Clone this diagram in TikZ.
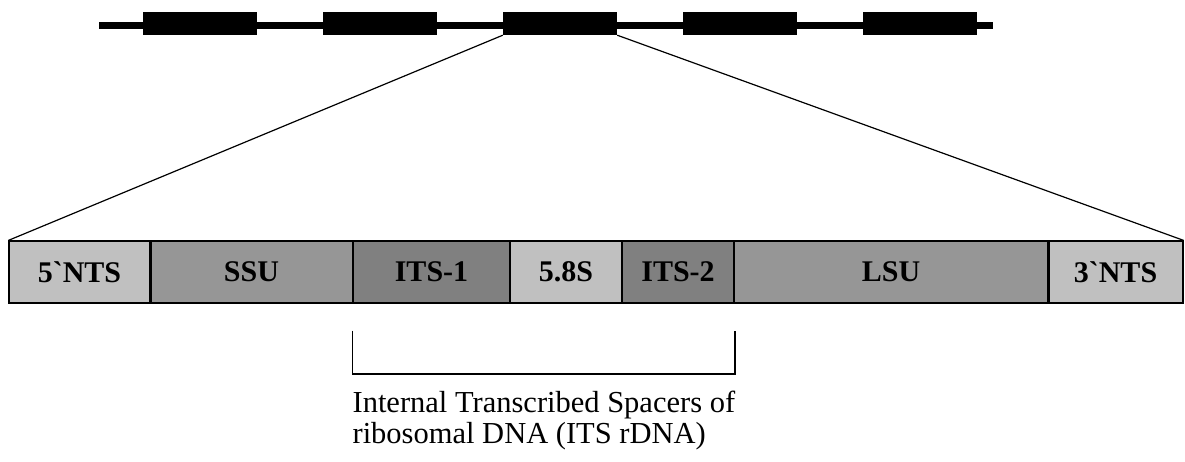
\documentclass[tikz,border=0pt]{standalone}
\usepackage{fontspec}
\setmainfont{Liberation Serif}
\definecolor{lightseg}{HTML}{C0C0C0}
\definecolor{midseg}{HTML}{969696}
\definecolor{darkseg}{HTML}{808080}
\tikzset{
	seg/.style={draw, line width=1.2pt, minimum height=62pt, inner sep=0pt,
		font=\fontsize{30}{31}\selectfont\bfseries},
	gene/.style={fill=black, minimum width=114pt, minimum height=23pt, inner sep=0pt}
}
\begin{document}
\begin{tikzpicture}[x=1pt, y=-1pt]
	\useasboundingbox (0,0) rectangle (1185,462);
	% chromosome with repeats
	\draw[line width=7pt] (99,25.5) -- (993,25.5);
	\foreach \i/\x in {1/200, 2/380, 3/560, 4/740, 5/920}
		\node[gene] (gene\i) at (\x,23.5) {};
	% one repeat unit
	\node[seg, fill=lightseg, minimum width=141pt] (nts5) at (79.5,272) {5\textasciigrave NTS};
	\node[seg, fill=midseg, minimum width=203pt] (ssu) at (251.5,272) {SSU};
	\node[seg, fill=darkseg, minimum width=157pt] (its1) at (431.5,272) {ITS-1};
	\node[seg, fill=lightseg, minimum width=112pt] (s58) at (566,272) {5.8S};
	\node[seg, fill=darkseg, minimum width=112pt] (its2) at (678,272) {ITS-2};
	\node[seg, fill=midseg, minimum width=314pt] (lsu) at (891,272) {LSU};
	\node[seg, fill=lightseg, minimum width=135pt] (nts3) at (1115.5,272) {3\textasciigrave NTS};
	\draw[line width=2.4pt] (nts5.north east) -- (nts5.south east);
	\draw[line width=2.4pt] (lsu.north east) -- (lsu.south east);
	\draw[line width=1.2pt] (gene3.south west) -- (nts5.north west);
	\draw[line width=1.2pt] (gene3.south east) -- (nts3.north east);
	% ITS bracket
	\draw[line width=1.8pt] ([yshift=-27pt]its1.south west) |- ([yshift=-70pt]its2.south east)
		-- ([yshift=-27pt]its2.south east);
	\node[anchor=north west, align=left, inner sep=0pt, font=\fontsize{30.5}{31}\selectfont]
		(itslabel) at ([yshift=-87pt]its1.south west)
		{Internal Transcribed Spacers of\\ribosomal DNA (ITS rDNA)};
\end{tikzpicture}
\end{document}
